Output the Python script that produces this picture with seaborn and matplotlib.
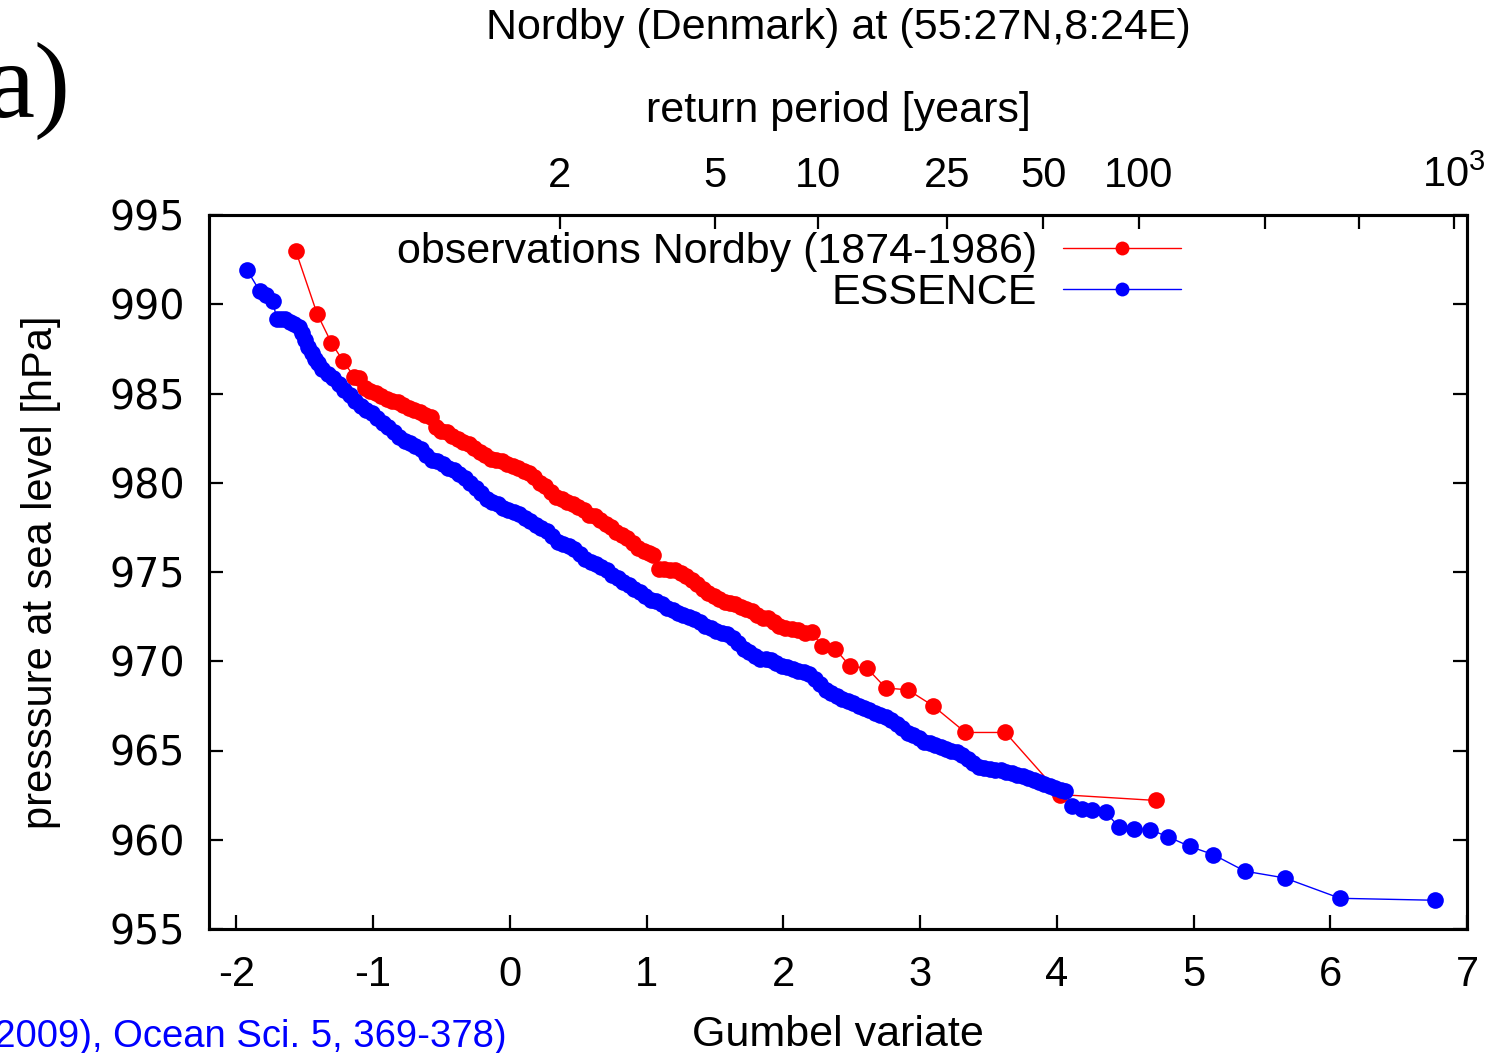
import numpy as np
import pandas as pd
import seaborn as sns
import matplotlib
matplotlib.use("Agg")
from matplotlib import pyplot as plt

# Gumbel plot of annual minimum sea-level pressure, Nordby (Denmark)
# values (gumbel variate, hPa)

obs_gumbel = [-1.566, -1.41, -1.305, -1.22,
              -1.14, -1.10, -1.06, -1.02, -0.98, -0.94, -0.90, -0.86, -0.82, -0.78,
              -0.74, -0.70, -0.66, -0.62, -0.58, -0.54, -0.50, -0.46, -0.42, -0.38,
              -0.34, -0.30, -0.26, -0.22, -0.18, -0.14, -0.10, -0.06, -0.02, 0.02,
              0.06, 0.10, 0.14, 0.18, 0.22, 0.26, 0.30, 0.34, 0.38, 0.42, 0.46,
              0.50, 0.54, 0.58, 0.62, 0.66, 0.70, 0.74, 0.78, 0.82, 0.86, 0.90,
              0.94, 0.98, 1.02, 1.05, 1.09, 1.13, 1.17, 1.21, 1.25, 1.29, 1.33,
              1.37, 1.41, 1.45, 1.49, 1.53, 1.57, 1.61, 1.65, 1.69, 1.73, 1.77,
              1.81, 1.85, 1.89, 1.93, 1.97, 2.01, 2.06, 2.11, 2.16, 2.21,
              2.282, 2.38, 2.49, 2.611, 2.75, 2.911, 3.094, 3.332, 3.624, 4.027, 4.727]
obs_pressure = [993.0, 989.48, 987.84, 986.83,
                985.95, 985.85, 985.3, 985.15, 985.05, 984.85, 984.7, 984.6, 984.5, 984.35,
                984.2, 984.05, 983.95, 983.8, 983.7, 983.1, 982.9, 982.85, 982.6, 982.45,
                982.3, 982.15, 981.95, 981.75, 981.55, 981.35, 981.3, 981.2, 981.05, 980.95,
                980.8, 980.65, 980.55, 980.35, 980.0, 979.8, 979.5, 979.2, 979.1, 978.9, 978.8,
                978.65, 978.45, 978.2, 978.15, 977.9, 977.7, 977.5, 977.25, 977.05, 976.9, 976.6,
                976.35, 976.2, 976.05, 975.95, 975.15, 975.15, 975.1, 975.1, 974.95, 974.75, 974.55,
                974.3, 974.05, 973.8, 973.65, 973.5, 973.3, 973.25, 973.2, 973.05, 972.95, 972.8,
                972.6, 972.4, 972.45, 972.2, 972.0, 971.85, 971.8, 971.75, 971.6, 971.65,
                970.83, 970.68, 969.71, 969.62, 968.5, 968.4, 967.51, 966.01, 966.01, 962.53, 962.2]

ess_gumbel = [-1.92, -1.83, -1.78, -1.735, -1.705, -1.67, -1.645, -1.61, -1.575, -1.545,
              -1.52, -1.50, -1.475, -1.45, -1.425, -1.40, -1.37, -1.33, -1.29, -1.25,
              -1.21, -1.17, -1.13, -1.09, -1.05, -1.01, -0.97, -0.93, -0.89, -0.85,
              -0.81, -0.77, -0.73, -0.69, -0.65, -0.61, -0.57, -0.53, -0.49, -0.45,
              -0.41, -0.37, -0.33, -0.29, -0.25, -0.21, -0.17, -0.13, -0.09, -0.05,
              -0.01, 0.03, 0.07, 0.11, 0.15, 0.19, 0.23, 0.27, 0.31, 0.35,
              0.39, 0.43, 0.47, 0.51, 0.55, 0.59, 0.63, 0.67, 0.71, 0.75,
              0.79, 0.83, 0.87, 0.91, 0.95, 0.99, 1.03, 1.07, 1.11, 1.15,
              1.19, 1.23, 1.27, 1.31, 1.35, 1.39, 1.43, 1.47, 1.51, 1.55,
              1.59, 1.63, 1.67, 1.71, 1.75, 1.79, 1.83, 1.87, 1.91, 1.95,
              1.99, 2.03, 2.07, 2.11, 2.15, 2.19, 2.23, 2.27, 2.31, 2.35,
              2.39, 2.43, 2.47, 2.51, 2.55, 2.59, 2.63, 2.67, 2.71, 2.75,
              2.79, 2.83, 2.87, 2.91, 2.95, 2.99, 3.03, 3.07, 3.11, 3.15,
              3.19, 3.23, 3.27, 3.31, 3.35, 3.39, 3.43, 3.47, 3.51, 3.55,
              3.59, 3.63, 3.67, 3.71, 3.75, 3.79, 3.83, 3.87, 3.91, 3.95,
              3.99, 4.03, 4.06, 4.112, 4.185, 4.258, 4.357, 4.454, 4.564, 4.681,
              4.815, 4.971, 5.144, 5.376, 5.667, 6.072, 6.767]
ess_pressure = [991.9, 990.75, 990.5, 990.2, 989.2, 989.15, 989.15, 989.0, 988.9, 988.75,
                988.4, 988.0, 987.6, 987.25, 986.95, 986.7, 986.4, 986.1, 985.85, 985.55,
                985.2, 984.9, 984.6, 984.3, 984.1, 983.9, 983.65, 983.35, 983.1, 982.85,
                982.55, 982.35, 982.2, 982.05, 981.9, 981.55, 981.3, 981.2, 981.05, 980.85,
                980.7, 980.5, 980.25, 980.0, 979.7, 979.4, 979.1, 978.9, 978.8, 978.6,
                978.45, 978.35, 978.25, 978.05, 977.85, 977.65, 977.45, 977.3, 977.0, 976.7,
                976.55, 976.45, 976.3, 976.0, 975.75, 975.55, 975.45, 975.3, 975.1, 974.85,
                974.65, 974.45, 974.25, 974.05, 973.9, 973.65, 973.45, 973.35, 973.2, 973.0,
                972.85, 972.7, 972.6, 972.5, 972.35, 972.2, 972.0, 971.85, 971.7, 971.6,
                971.5, 971.3, 971.0, 970.7, 970.5, 970.3, 970.15, 970.1, 970.05, 969.9,
                969.75, 969.65, 969.55, 969.45, 969.4, 969.3, 969.0, 968.7, 968.4, 968.2,
                968.05, 967.9, 967.8, 967.65, 967.5, 967.4, 967.25, 967.1, 967.0, 966.85,
                966.7, 966.5, 966.25, 966.0, 965.85, 965.7, 965.5, 965.4, 965.3, 965.2,
                965.1, 965.0, 964.9, 964.75, 964.55, 964.3, 964.1, 964.0, 963.95, 963.9,
                963.9, 963.8, 963.75, 963.65, 963.55, 963.45, 963.35, 963.25, 963.1, 963.0,
                962.9, 962.8, 962.75, 961.87, 961.7, 961.65, 961.55, 960.72, 960.62, 960.57,
                960.16, 959.63, 959.17, 958.24, 957.86, 956.72, 956.61]

# return periods shown on the upper axis
return_periods = [2, 5, 10, 25, 50, 100, 250, 500, 1000]
return_labels = ["2", "5", "10", "25", "50", "100", "", "", r"$\mathregular{10^3}$"]

obs = pd.DataFrame({"gumbel": obs_gumbel, "pressure": obs_pressure})
ess = pd.DataFrame({"gumbel": ess_gumbel, "pressure": ess_pressure})

sns.set_theme(style="ticks")
plt.rcParams["font.family"] = ["Liberation Sans", "DejaVu Sans"]
plt.rcParams["mathtext.fontset"] = "custom"
plt.rcParams["mathtext.rm"] = "Liberation Sans"
plt.rcParams["axes.unicode_minus"] = False
for key in ["text.color", "axes.labelcolor", "xtick.color", "ytick.color", "axes.edgecolor"]:
    plt.rcParams[key] = "black"

fig = plt.figure(figsize=(14.97, 10.53), dpi=100)
ax = fig.add_axes([209 / 1497, 1 - 929 / 1053, (1467 - 209) / 1497, (929 - 215) / 1053])

sns.lineplot(data=obs, x="gumbel", y="pressure", ax=ax, color="#ff0000",
             marker="o", markersize=12, markeredgewidth=0, linewidth=1.0,
             estimator=None, sort=False, label="observations Nordby (1874-1986)")
sns.lineplot(data=ess, x="gumbel", y="pressure", ax=ax, color="#0000ff",
             marker="o", markersize=12, markeredgewidth=0, linewidth=1.0,
             estimator=None, sort=False, label="ESSENCE")

ax.set_xlim(-2.2, 7)
ax.set_ylim(955, 995)
ax.set_xticks(range(-2, 8))
ax.set_yticks(range(955, 996, 5))
for lab in ax.get_yticklabels():
    lab.set_fontfamily("DejaVu Sans")
ax.tick_params(axis="x", direction="in", length=10, width=1.6, labelsize=30, pad=19)
ax.tick_params(axis="y", direction="in", length=10, width=1.6, labelsize=28.5, pad=17,
               right=True)
for s in ax.spines.values():
    s.set_linewidth(2.2)

ax.set_xlabel("Gumbel variate", fontsize=31, labelpad=14)
ax.set_ylabel("presssure at sea level [hPa]", fontsize=30, labelpad=35)

# upper axis: return period in years
ax2 = ax.twiny()
ax2.set_xlim(ax.get_xlim())
ax2.set_xticks([-np.log(-np.log(1 - 1 / t)) for t in return_periods])
ax2.set_xticklabels(return_labels)
ax2.tick_params(axis="x", direction="in", length=10, width=1.6, labelsize=30, pad=14)
ax2.set_xlabel("return period [years]", fontsize=31, labelpad=24)
for s in ax2.spines.values():
    s.set_linewidth(2.2)

fig.text(838 / 1497, 1 - 28 / 1053, "Nordby (Denmark) at (55:27N,8:24E)",
         ha="center", va="center", fontsize=31)

leg = ax.legend(loc="upper right", bbox_to_anchor=(1181 / 1497, 1 - 232 / 1053),
                bbox_transform=fig.transFigure, frameon=False, markerfirst=False,
                fontsize=31, handlelength=2.75, handletextpad=0.6, labelspacing=0.03,
                borderpad=0, borderaxespad=0)
for h in leg.legend_handles:
    h.set_markersize(10)

fig.text(-14 / 1497, 1 - 117 / 1053, "a)", ha="left", va="baseline",
         fontsize=78, family="Liberation Serif")
fig.text(507 / 1497, 1 - 1047 / 1053,
         "(from Sterl et al. (2009), Ocean Sci. 5, 369-378)",
         ha="right", va="baseline", fontsize=27.5, color="#0000ff")

fig.savefig("out.png", dpi=100)
